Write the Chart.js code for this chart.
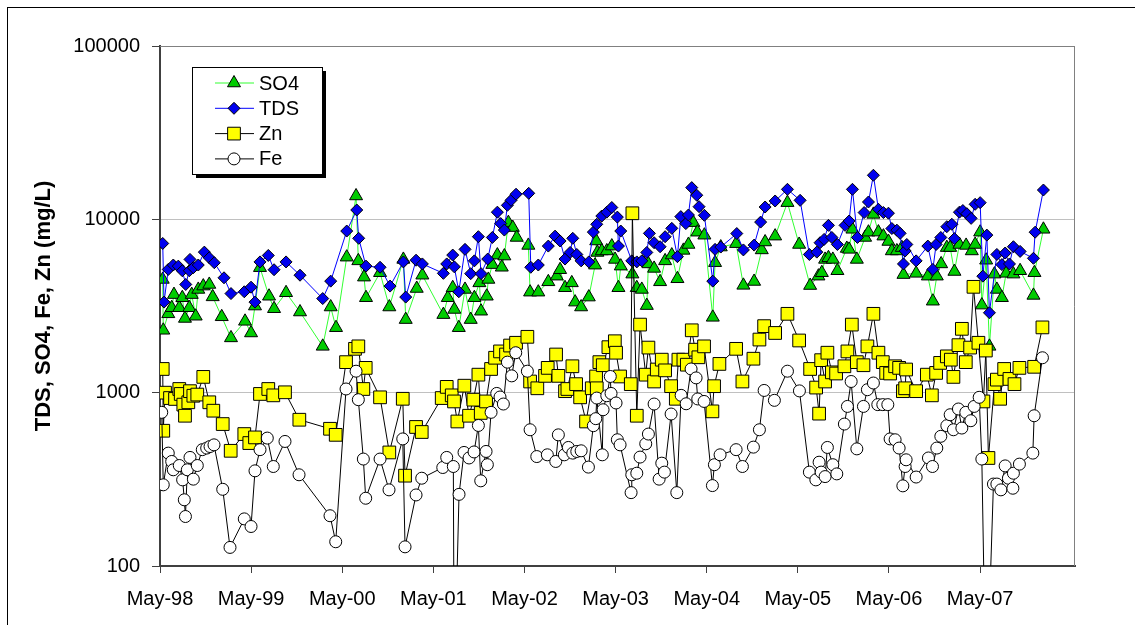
<!DOCTYPE html>
<html>
<head>
<meta charset="utf-8">
<script src="https://cdn.jsdelivr.net/npm/chart.js@4.4.0/dist/chart.umd.min.js"></script>
<style>
html, body { margin: 0; padding: 0; background: #fff; }
#wrap { width: 1135px; height: 625px; }
</style>
</head>
<body>
<div id="wrap"><canvas id="chart" width="1135" height="625"></canvas></div>
<script>
const FONT = "'Liberation Sans', Arial, sans-serif";

// x values are months counted from 1 May 1998
const yearLabels = ['May-98', 'May-99', 'May-00', 'May-01', 'May-02', 'May-03', 'May-04', 'May-05', 'May-06', 'May-07'];
const yTickValues = [100, 1000, 10000, 100000];

const so4Months = [0.36, 0.43, 1.09, 1.54, 1.84, 2.54, 2.94, 3.29, 3.86, 4.18,
    4.70, 5.04, 5.70, 6.49, 6.94, 8.13, 9.35, 11.20, 11.99, 12.51,
    13.17, 14.36, 15.02, 16.60, 18.44, 21.43, 22.48, 23.18, 24.59, 25.82,
    26.12, 26.87, 27.13, 28.98, 30.20, 32.05, 32.36, 33.81, 34.55, 37.32,
    37.90, 38.55, 38.76, 39.35, 40.17, 40.92, 41.40, 42.06, 42.28, 43.03,
    43.24, 43.77, 44.43, 45.01, 45.35, 45.88, 46.46, 46.98, 48.51, 48.74,
    49.82, 51.14, 52.25, 52.69, 53.34, 54.23, 54.67, 55.46, 56.47, 57.30,
    57.45, 57.60, 58.18, 58.84, 59.50, 59.93, 60.37, 60.68, 62.21, 62.79,
    63.45, 64.11, 64.32, 65.07, 65.86, 66.52, 67.40, 68.14, 68.93, 69.59,
    70.24, 70.77, 71.69, 72.80, 73.10, 73.85, 75.87, 76.83, 78.24, 79.25,
    79.69, 81.01, 82.63, 84.17, 85.62, 86.71, 87.16, 87.59, 88.03, 88.61,
    89.21, 90.45, 90.75, 91.19, 91.77, 92.86, 93.30, 93.95, 94.61, 95.27,
    95.93, 96.38, 97.04, 97.69, 97.91, 99.58, 101.12, 101.78, 102.30, 102.87,
    103.62, 104.06, 104.62, 105.28, 106.16, 106.91, 107.35, 108.01, 108.23, 108.80,
    109.23, 109.89, 110.21, 110.87, 111.43, 112.39, 113.27, 115.03, 115.16, 116.34];
const so4Values = [4500, 2290, 2850, 3090, 3680, 3090, 3530, 2680, 3090, 3680,
    2760, 3940, 4120, 4210, 3570, 2740, 2070, 2580, 2210, 3160,
    5260, 3600, 3050, 3770, 2920, 1850, 3120, 2370, 6050, 13640,
    5760, 4640, 3530, 4920, 3120, 5870, 2640, 3990, 4760, 2820,
    3530, 4030, 3020, 2370, 3940, 2640, 3530, 4300, 2950, 3600,
    4500, 5480, 6220, 5290, 6140, 9570, 8960, 7860, 7070, 3800,
    3800, 4360, 4700, 5120, 4030, 4300, 3330, 3120, 3560, 5440,
    7500, 6440, 6570, 6570, 7010, 5870, 4030, 5370, 4830, 4030,
    3940, 3180, 5530, 5210, 4360, 5760, 6220, 4540, 6620, 7160,
    9570, 8430, 8100, 2720, 5620, 6920, 7240, 4160, 4380, 6660,
    7400, 8000, 12480, 7160, 4150, 4700, 4920, 5870, 6000, 5870,
    5050, 6790, 6710, 8760, 5870, 7860, 8430, 10680, 8440, 8000,
    7450, 6570, 6570, 6870, 4800, 4880, 4700, 3370, 4700, 5530,
    6870, 6870, 5000, 7160, 7070, 6570, 7160, 8430, 3200, 5810,
    1850, 4830, 3940, 3530, 4880, 4830, 5050, 3640, 4920, 8760];

const tdsMonths = [0.36, 0.53, 1.09, 1.75, 2.41, 2.94, 3.39, 3.86, 3.95, 4.39,
    5.04, 5.84, 6.49, 7.15, 8.43, 9.35, 11.10, 11.99, 12.51, 13.17,
    14.26, 15.02, 16.60, 18.44, 21.43, 22.48, 24.59, 25.91, 26.17, 27.13,
    28.98, 30.30, 32.05, 32.36, 33.72, 34.55, 37.32, 37.76, 38.55, 38.76,
    39.35, 40.17, 40.92, 41.40, 41.93, 42.28, 43.16, 43.77, 44.43, 44.87,
    45.35, 45.75, 46.23, 46.89, 48.56, 48.83, 49.82, 51.14, 52.03, 52.69,
    53.34, 54.01, 54.36, 54.89, 55.46, 56.47, 57.07, 57.52, 58.18, 58.84,
    59.50, 60.23, 60.37, 60.68, 62.13, 62.79, 63.45, 64.11, 64.45, 65.07,
    65.86, 66.52, 67.40, 68.14, 68.59, 69.25, 69.59, 70.03, 70.69, 70.99,
    71.69, 72.80, 73.10, 73.85, 75.96, 76.83, 78.24, 79.10, 79.69, 81.01,
    82.63, 84.30, 85.52, 86.50, 86.93, 87.46, 88.03, 88.48, 89.21, 90.22,
    90.75, 91.19, 91.85, 92.73, 93.30, 93.95, 94.61, 95.27, 95.93, 96.38,
    97.04, 97.47, 97.91, 98.13, 98.35, 99.58, 101.12, 101.78, 102.21, 102.83,
    103.62, 104.28, 104.62, 105.28, 105.73, 106.26, 106.82, 107.35, 108.01, 108.36,
    108.89, 109.23, 110.21, 110.87, 111.30, 111.87, 112.39, 113.27, 115.03, 115.25,
    116.34];
const tdsValues = [7260, 3330, 5140, 5450, 5370, 5050, 4210, 5050, 5870, 5260,
    5450, 6470, 6000, 5620, 4600, 3730, 3820, 4060, 3330, 5680,
    6190, 5120, 5680, 4760, 3490, 4400, 8560, 11320, 7770, 5370,
    5290, 4120, 5680, 3560, 5810, 5530, 4880, 5530, 6220, 5320,
    3820, 6710, 4860, 5760, 7940, 4860, 5900, 7860, 11000, 9450,
    8670, 12050, 12870, 13960, 14130, 5290, 5450, 7010, 8000, 7500,
    5900, 6440, 7770, 6270, 5760, 5680, 8440, 9360, 10450, 11000,
    11700, 10300, 7010, 8560, 5760, 5680, 5760, 6440, 8300, 7330,
    6950, 7940, 8870, 6090, 10370, 9450, 10590, 15240, 13770, 11830,
    10550, 4400, 6710, 6920, 8280, 6660, 7100, 9640, 11780, 12760,
    14900, 12870, 6270, 6470, 7330, 7660, 9230, 7860, 7160, 9230,
    9780, 14900, 7860, 10940, 12590, 17960, 11430, 10940, 10850, 8850,
    8660, 8300, 5530, 6570, 7160, 5760, 7010, 5140, 7160, 7860,
    9070, 9360, 7740, 11000, 11240, 10780, 10130, 12210, 12480, 4700,
    8110, 2890, 6270, 5480, 6390, 5530, 6950, 6530, 5960, 8430,
    14760];

const znMonths = [0.36, 0.43, 0.66, 1.32, 1.98, 2.54, 2.73, 3.07, 3.29, 3.73,
    3.95, 4.39, 4.91, 5.70, 6.49, 7.02, 8.26, 9.31, 11.10, 11.76,
    12.51, 13.17, 14.26, 14.92, 16.46, 18.35, 22.39, 23.14, 24.50, 25.68,
    26.12, 26.78, 27.09, 28.98, 30.20, 31.97, 32.27, 33.72, 34.47, 37.10,
    37.76, 38.42, 38.72, 39.16, 40.08, 40.70, 41.27, 41.93, 42.24, 42.94,
    43.60, 44.13, 44.78, 45.57, 46.10, 46.89, 48.38, 48.74, 49.69, 50.71,
    51.06, 52.16, 52.46, 53.34, 53.65, 54.31, 54.80, 55.33, 56.11, 56.86,
    57.43, 57.52, 57.86, 58.31, 59.05, 59.90, 60.06, 60.59, 62.00, 62.21,
    62.79, 63.22, 63.97, 64.32, 65.07, 65.42, 66.08, 66.52, 67.31, 67.93,
    68.27, 68.93, 69.38, 70.03, 70.47, 70.90, 71.65, 72.75, 72.97, 73.67,
    75.87, 76.70, 78.15, 78.94, 79.56, 81.01, 82.63, 84.17, 85.62, 86.41,
    86.80, 87.07, 87.59, 87.89, 88.48, 89.04, 90.13, 90.53, 91.11, 91.77,
    92.64, 93.16, 93.95, 94.61, 95.19, 95.63, 96.15, 96.81, 97.34, 97.83,
    98.13, 98.26, 99.58, 100.99, 101.65, 102.21, 102.74, 103.62, 104.15, 104.49,
    105.15, 105.60, 106.12, 106.69, 107.13, 107.78, 108.44, 108.76, 109.10, 109.89,
    110.21, 110.64, 111.17, 111.87, 112.53, 113.18, 115.12, 116.21];
const znValues = [1370, 603, 1000, 931, 920, 1050, 983, 853, 736, 880,
    1020, 960, 975, 1233, 880, 787, 659, 462, 577, 512,
    552, 983, 1050, 965, 1005, 698, 619, 571, 1500, 1790,
    1850, 1050, 1390, 940, 452, 922, 332, 634, 593, 931,
    1080, 965, 890, 682, 1097, 736, 911, 1270, 764, 890,
    1370, 1590, 1730, 1660, 1870, 1940, 2100, 1160, 1060, 1250,
    1390, 1660, 1250, 1020, 1050, 1420, 1120, 940, 682, 1060,
    1240, 1060, 1500, 1440, 1830, 1980, 1700, 1240, 1120, 10840,
    736, 2470, 1270, 1820, 1160, 1360, 1550, 1345, 1090, 922,
    1550, 1550, 1450, 2290, 1770, 1600, 1850, 780, 1090, 1465,
    1790, 1160, 1570, 2025, 2420, 2210, 2850, 2000, 1370, 1070,
    757, 1540, 1160, 1700, 1310, 1290, 1420, 1730, 2470, 1500,
    1440, 1850, 2850, 1700, 1500, 1300, 1290, 1420, 1390, 1020,
    1060, 1360, 1020, 1270, 965, 1300, 1485, 1620, 1550, 1233,
    1880, 2335, 1500, 1820, 4080, 1940, 890, 1750, 420, 1120,
    1189, 922, 1370, 1200, 1120, 1390, 1410, 2380];

const feMonths = [0.23, 0.43, 1.09, 1.54, 1.75, 2.54, 2.98, 3.20, 3.35, 3.60,
    3.95, 4.39, 4.91, 5.57, 6.15, 6.59, 7.11, 8.26, 9.22, 11.10,
    11.99, 12.51, 13.17, 14.13, 14.92, 16.46, 18.31, 22.39, 23.14, 24.50,
    25.82, 26.12, 26.78, 27.09, 28.98, 30.16, 31.97, 32.27, 33.72, 34.47,
    37.24, 37.76, 38.63, 38.75, 39.38, 40.04, 40.70, 41.36, 41.93, 42.24,
    42.94, 43.11, 43.60, 44.35, 44.78, 45.22, 45.75, 46.32, 46.85, 48.38,
    48.74, 49.62, 51.01, 52.12, 52.46, 53.25, 53.78, 54.36, 54.89, 55.46,
    56.42, 57.07, 57.39, 57.52, 58.25, 58.35, 58.84, 59.30, 59.40, 60.06,
    60.23, 60.59, 62.04, 62.13, 62.79, 63.22, 63.97, 64.32, 65.07, 65.73,
    66.08, 66.43, 67.31, 68.06, 68.63, 69.29, 69.94, 70.60, 70.82, 71.65,
    72.75, 73.01, 73.76, 75.87, 76.70, 78.15, 78.94, 79.56, 80.91, 82.63,
    84.21, 85.52, 86.37, 86.80, 87.07, 87.59, 87.89, 88.61, 89.13, 90.13,
    90.53, 91.02, 91.77, 92.64, 93.16, 93.95, 94.53, 95.19, 95.85, 96.15,
    96.81, 97.34, 97.83, 98.13, 98.26, 99.58, 101.20, 101.73, 102.30, 102.83,
    103.62, 104.06, 104.49, 105.15, 105.60, 106.12, 106.78, 107.22, 107.88, 108.23,
    108.80, 109.76, 110.21, 110.74, 111.30, 111.73, 112.32, 112.39, 113.18, 114.95,
    115.12, 116.21];
const feValues = [770, 294, 448, 401, 359, 380, 314, 241, 193, 359,
    423, 317, 380, 469, 479, 489, 500, 277, 128, 187,
    169, 354, 469, 547, 375, 523, 336, 195, 138, 1050,
    1330, 911, 414, 246, 414, 275, 541, 129, 257, 321,
    370, 423, 375, 20, 259, 452, 420, 455, 647, 310,
    458, 384, 770, 990, 944, 860, 1500, 1250, 1700, 1330,
    611, 428, 438, 401, 571, 438, 483, 448, 458, 462,
    372, 645, 708, 931, 438, 797, 960, 1240, 990, 872,
    535, 500, 265, 336, 343, 425, 507, 577, 860, 317,
    392, 348, 753, 265, 965, 863, 1370, 1217, 920, 890,
    291, 384, 438, 469, 375, 485, 611, 1030, 903, 1330,
    1024, 348, 314, 397, 348, 328, 483, 384, 340, 659,
    833, 1160, 474, 833, 1040, 1137, 853, 853, 853, 541,
    535, 479, 290, 375, 410, 326, 420, 375, 479, 560,
    645, 746, 611, 805, 625, 770, 689, 833, 940, 414,
    15, 297, 297, 275, 378, 321, 281, 343, 387, 448,
    736, 1590];

function toPoints(months, values) {
    return months.map((m, i) => ({ x: m, y: values[i] }));
}

// white page with the outer frame, and the grey frame round the plot area
const framePlugin = {
    id: 'framePlugin',
    beforeDraw(chart) {
        const ctx = chart.ctx;
        ctx.save();
        ctx.fillStyle = '#fff';
        ctx.fillRect(0, 0, chart.width, chart.height);
        ctx.strokeStyle = '#000';
        ctx.lineWidth = 1;
        ctx.strokeRect(7.5, 7.5, chart.width + 20, chart.height + 20);
        ctx.restore();
    },
    beforeDatasetsDraw(chart) {
        const a = chart.chartArea, ctx = chart.ctx;
        ctx.save();
        ctx.strokeStyle = '#808080';
        ctx.lineWidth = 1;
        ctx.beginPath();
        ctx.moveTo(a.left, a.top + 0.5);
        ctx.lineTo(a.right - 0.5, a.top + 0.5);
        ctx.lineTo(a.right - 0.5, a.bottom);
        ctx.stroke();
        ctx.restore();
    }
};

// legend box with a drop shadow, like the spreadsheet original
const legendPlugin = {
    id: 'legendPlugin',
    afterDraw(chart) {
        const ctx = chart.ctx;
        const bx = 192, by = 67, bw = 130, bh = 107;
        ctx.save();
        ctx.fillStyle = '#000';
        ctx.fillRect(bx + 4, by + 4, bw, bh);
        ctx.fillStyle = '#fff';
        ctx.fillRect(bx, by, bw, bh);
        ctx.strokeStyle = '#000';
        ctx.lineWidth = 1;
        ctx.strokeRect(bx + 0.5, by + 0.5, bw, bh);
        chart.data.datasets.forEach((ds, i) => {
            const cy = 83 + i * 25.3;
            ctx.strokeStyle = ds.borderColor;
            ctx.lineWidth = 1;
            ctx.beginPath();
            ctx.moveTo(215, cy);
            ctx.lineTo(254, cy);
            ctx.stroke();
            ctx.fillStyle = ds.pointBackgroundColor;
            ctx.strokeStyle = '#000';
            Chart.helpers.drawPoint(ctx, { pointStyle: ds.pointStyle, radius: ds.pointRadius, rotation: 0, borderWidth: 1 }, 234, cy);
            ctx.fillStyle = '#000';
            ctx.font = '20px ' + FONT;
            ctx.textAlign = 'left';
            ctx.textBaseline = 'middle';
            ctx.fillText(ds.label, 259, cy + 1);
        });
        ctx.restore();
    }
};

const lineBase = { borderWidth: 1, tension: 0, pointBorderColor: '#000', pointBorderWidth: 1, fill: false };

new Chart(document.getElementById('chart'), {
    type: 'line',
    data: {
        datasets: [
            { ...lineBase, label: 'SO4', data: toPoints(so4Months, so4Values), borderColor: '#33ff33', pointBackgroundColor: '#00cc00', pointStyle: 'triangle', pointRadius: 7.5, order: 4 },
            { ...lineBase, label: 'TDS', data: toPoints(tdsMonths, tdsValues), borderColor: '#0000ff', pointBackgroundColor: '#0000ee', pointStyle: 'rectRot', pointRadius: 6, order: 3 },
            { ...lineBase, label: 'Zn', data: toPoints(znMonths, znValues), borderColor: '#000', pointBackgroundColor: '#ffff00', pointStyle: 'rect', pointRadius: 9, order: 2 },
            { ...lineBase, label: 'Fe', data: toPoints(feMonths, feValues), borderColor: '#000', pointBackgroundColor: '#fff', pointStyle: 'circle', pointRadius: 6, order: 1 }
        ]
    },
    options: {
        responsive: false, animation: false,
        layout: { padding: { left: 0, top: 46, right: 60, bottom: 0 } },
        scales: {
            x: {
                type: 'linear', min: 0, max: 120.5,
                afterBuildTicks: s => { s.ticks = yearLabels.map((_, i) => ({ value: i * 12 })); },
                afterFit: s => { s.height = 59; },
                ticks: { callback: v => yearLabels[Math.round(v / 12)], autoSkip: false, maxRotation: 0, padding: 14, color: '#000', font: { family: FONT, size: 20 } },
                grid: { drawOnChartArea: false, drawTicks: true, tickLength: 7, tickColor: '#404040' },
                border: { color: '#404040', width: 2 }
            },
            y: {
                type: 'logarithmic', min: 100, max: 100000,
                afterBuildTicks: s => { s.ticks = yTickValues.map(v => ({ value: v })); },
                afterFit: s => { s.width = 160; },
                ticks: { callback: v => String(v), padding: 12, color: '#000', font: { family: FONT, size: 20 } },
                grid: {
                    color: c => (c.tick && c.tick.value === 100000) ? '#808080' : (c.tick && c.tick.value === 100 ? 'rgba(0,0,0,0)' : '#c0c0c0'),
                    tickLength: 8, tickColor: '#404040'
                },
                border: { color: '#404040', width: 2 },
                title: { display: true, text: 'TDS, SO4, Fe, Zn (mg/L)', color: '#000', font: { family: FONT, size: 22, weight: 'bold' }, padding: { top: 31, bottom: 0 } }
            }
        },
        plugins: { legend: { display: false }, tooltip: { enabled: false } }
    },
    plugins: [framePlugin, legendPlugin]
});
</script>
</body>
</html>
